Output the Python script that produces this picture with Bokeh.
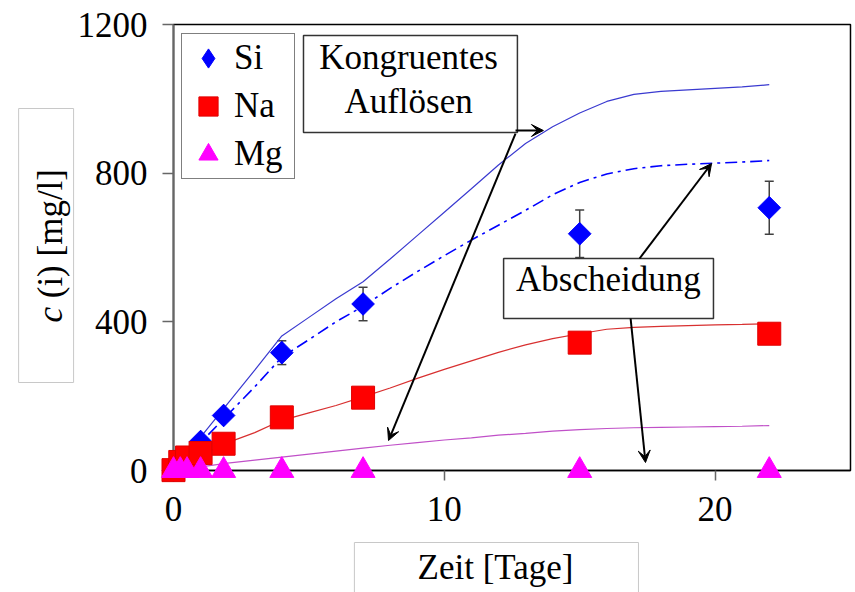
import numpy as np
from bokeh.plotting import figure
from bokeh.models import (Range1d, FixedTicker, ColumnDataSource, Whisker, TeeHead, Legend,
                          LegendItem, BoxAnnotation, Label, Arrow, VeeHead)
from bokeh.embed import file_html
from bokeh.resources import INLINE

# ---------------- data ----------------
days = [0, 0.25, 0.5, 1, 1.85, 4, 7, 15, 22]
si = [0, 10, 30, 78, 148, 317, 448, 637, 707]
si_err = [0, 1, 3, 8, 15, 32, 45, 64, 71]
na = [1, 23, 35, 47, 72, 143, 196, 344, 368]
mg = [0, 0, 0, 0, 0, 0, 0, 0, 0]

model_t = [0, 1, 2, 3, 4, 5, 6, 7, 8, 9, 10, 11, 12, 13, 14, 15, 16, 17, 18, 19, 20, 21, 22]
si_model_kongruent = [0, 90, 180, 270, 362, 412, 462, 508, 569, 632, 695, 758, 822, 880, 925,
                      962, 993, 1012, 1020, 1024, 1028, 1032, 1038]
si_model_abscheidung = [0, 75, 150, 225, 305, 352, 400, 442, 490, 535, 578, 620, 660, 700, 742,
                        775, 798, 812, 820, 824, 827, 830, 834]
na_model = [0, 40, 75, 102, 135, 155, 175, 198, 222, 248, 272, 295, 318, 338, 355, 368, 380,
            385, 388, 390, 392, 393, 395]
mg_model = [0, 10, 20, 28, 36, 44, 52, 60, 68, 75, 82, 88, 95, 100, 106, 110, 113, 115, 116,
            117, 118, 119, 121]

x_ticks = [0, 10, 20]
y_ticks = [0, 400, 800, 1200]
series_names = ["Si", "Na", "Mg"]

FONT = "Liberation Serif"
FS = "35px"

# the frame covers the whole canvas; axes sit at fixed data locations inside it
p = figure(width=855, height=592, output_backend="svg", toolbar_location=None,
           x_range=Range1d(-6.389, 25.185), y_range=Range1d(-328.25, 1264.6),
           min_border=0)
p.grid.visible = False
p.outline_line_color = None
p.background_fill_color = "white"
p.border_fill_color = "white"

for ax in (p.xaxis[0], p.yaxis[0]):
    ax.fixed_location = 0
    ax.major_label_text_font = FONT
    ax.major_label_text_font_size = FS
    ax.major_label_text_color = "black"
    ax.minor_tick_line_color = None
    ax.major_tick_in = 0
    ax.level = "underlay"
p.xaxis.ticker = FixedTicker(ticks=x_ticks)
p.xaxis.bounds = (0, 25)
p.xaxis.axis_line_color = "black"
p.xaxis.axis_line_width = 1.5
p.xaxis.major_tick_out = 10
p.xaxis.major_tick_line_color = "#666666"
p.xaxis.major_tick_line_width = 1.5
p.xaxis.major_label_standoff = 16
p.yaxis.ticker = FixedTicker(ticks=y_ticks)
p.yaxis.bounds = (0, 1200)
p.yaxis.axis_line_color = "#666666"
p.yaxis.axis_line_width = 2
p.yaxis.major_tick_out = 11
p.yaxis.major_tick_line_color = "#666666"
p.yaxis.major_tick_line_width = 1.5
p.yaxis.major_label_standoff = 15

# plot-area border (top / right)
p.add_layout(BoxAnnotation(left=0, right=25, bottom=0, top=1200, fill_color=None,
                           line_color="black", line_alpha=1, line_width=1.5, level="image"))

# model curves
p.line(model_t, si_model_kongruent, color="#3a3ad0", line_width=1.2)
p.line(model_t, si_model_abscheidung, color="#0000ff", line_width=1.6, line_dash="12 5 3 5")
p.line(model_t, na_model, color="#d83030", line_width=1.2)
p.line(model_t, mg_model, color="#c050c8", line_width=1.2)

src = ColumnDataSource(dict(days=days, si=si, na=na, mg=mg,
                            lower=[s - e for s, e in zip(si, si_err)],
                            upper=[s + e for s, e in zip(si, si_err)]))
p.add_layout(Whisker(base="days", lower="lower", upper="upper", source=src, dimension="height",
                     line_color="#404040", line_width=1.5, level="underlay",
                     upper_head=TeeHead(size=9, line_color="#404040", line_width=1.5),
                     lower_head=TeeHead(size=9, line_color="#404040", line_width=1.5)))

# Si: diamond glyph (used by the legend) covered by a rotated square of the same colour
r_si_key = p.scatter("days", "si", source=src, marker="diamond", size=22,
                     fill_color="#0000ff", line_color="#0000ff")
r_si = p.scatter("days", "si", source=src, marker="square", angle=np.pi / 4, size=16,
                 fill_color="#0000ff", line_color="#0000ff")
r_na = p.scatter("days", "na", source=src, marker="square", size=23,
                 fill_color="#ff0000", line_color="#e00000")
r_mg = p.scatter("days", "mg", source=src, marker="triangle", size=24,
                 fill_color="#ff00ff", line_color="#ff00ff")

legend = Legend(items=[LegendItem(label=series_names[0], renderers=[r_si_key]),
                       LegendItem(label=series_names[1], renderers=[r_na]),
                       LegendItem(label=series_names[2], renderers=[r_mg])],
                location=(181, 413), glyph_width=52, glyph_height=48, spacing=0, padding=0,
                label_standoff=0, label_width=60, margin=0,
                border_line_color="black", border_line_width=1.5,
                label_text_font=FONT, label_text_font_size=FS, label_text_color="black",
                background_fill_color="white", background_fill_alpha=1)
p.add_layout(legend)

# annotation boxes
box_kw = dict(fill_color="white", fill_alpha=1, line_color="#333333", line_alpha=1,
              line_width=1.5)
p.add_layout(BoxAnnotation(left=4.80, right=12.70, bottom=909.4, top=1170.4, **box_kw))
p.add_layout(BoxAnnotation(left=12.19, right=19.94, bottom=409.0, top=570.4, **box_kw))
title_box_kw = dict(fill_color="white", fill_alpha=1, line_color="#c8c8c8", line_alpha=1,
                    line_width=1)
p.add_layout(BoxAnnotation(left=-5.72, right=-3.69, bottom=236.8, top=974.0, **title_box_kw))
p.add_layout(BoxAnnotation(left=6.68, right=17.17, bottom=-400, top=-193.7, **title_box_kw))

lab_kw = dict(text_font=FONT, text_font_size=FS, text_color="black")
p.add_layout(Label(x=8.68, y=1111.2, text="Kongruentes", text_align="center",
                   text_baseline="alphabetic", **lab_kw))
p.add_layout(Label(x=8.68, y=992.8, text="Auflösen", text_align="center",
                   text_baseline="alphabetic", **lab_kw))
p.add_layout(Label(x=16.06, y=513.9, text="Abscheidung", text_align="center",
                   text_baseline="alphabetic", **lab_kw))
p.add_layout(Label(x=-4.55, y=398.2, text="c", angle=np.pi / 2, text_align="left",
                   text_baseline="middle", text_font_style="italic", **lab_kw))
p.add_layout(Label(x=-4.55, y=463.4, text="(i) [mg/l]", angle=np.pi / 2, text_align="left",
                   text_baseline="middle", **lab_kw))
p.add_layout(Label(x=11.89, y=-261.0, text="Zeit [Tage]", text_align="center",
                   text_baseline="alphabetic", **lab_kw))

# arrows
arrows = [((12.63, 914.8), (13.66, 914.8)),
          ((12.63, 906.7), (7.94, 80.7)),
          ((17.21, 570.4), (19.87, 826.0)),
          ((16.88, 409.0), (17.43, 21.5))]
for (xs, ys), (xe, ye) in arrows:
    p.add_layout(Arrow(x_start=xs, y_start=ys, x_end=xe, y_end=ye, line_color="black",
                       line_width=2,
                       end=VeeHead(size=12, fill_color="black", line_color="black",
                                   line_width=1)))

open("out.html", "w").write(file_html(p, INLINE))
